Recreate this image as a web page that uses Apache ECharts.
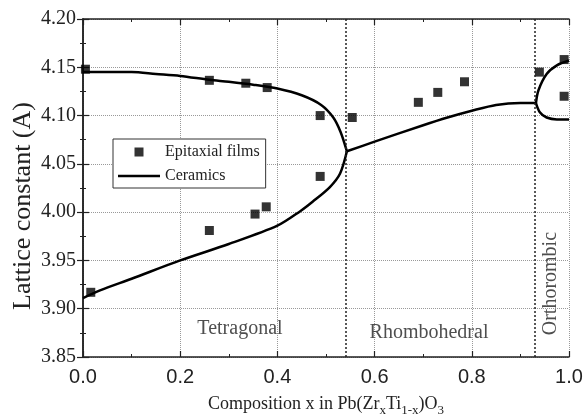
<!DOCTYPE html>
<html>
<head>
<meta charset="utf-8">
<script src="https://cdn.jsdelivr.net/npm/echarts@6/dist/echarts.min.js"></script>
<style>
  html, body { margin: 0; padding: 0; background: #fff; }
  #main { width: 583px; height: 416px; }
</style>
</head>
<body>
<div id="main"></div>
<script>
// epitaxial films (squares)
var filmsX = [0.005, 0.016, 0.26, 0.335, 0.379, 0.488, 0.554, 0.690, 0.730, 0.785, 0.939, 0.990, 0.990, 0.488, 0.26, 0.354, 0.377];
var filmsY = [4.148, 3.917, 4.1365, 4.1335, 4.129, 4.100, 4.098, 4.1137, 4.124, 4.135, 4.145, 4.158, 4.120, 4.037, 3.981, 3.998, 4.0055];

// ceramics curves
var tetraUpX = [0, 0.05, 0.1, 0.15, 0.2, 0.26, 0.3, 0.35, 0.4, 0.45, 0.49, 0.515, 0.53, 0.543];
var tetraUpY = [4.145, 4.145, 4.145, 4.143, 4.141, 4.137, 4.135, 4.132, 4.128, 4.121, 4.111, 4.098, 4.083, 4.063];
var tetraLoX = [0, 0.035, 0.1, 0.2, 0.3, 0.4, 0.447, 0.473, 0.508, 0.529, 0.543];
var tetraLoY = [3.911, 3.919, 3.931, 3.950, 3.967, 3.986, 4.001, 4.011, 4.026, 4.040, 4.063];
var rhomboX = [0.543, 0.6, 0.7, 0.75, 0.8, 0.85, 0.9, 0.932];
var rhomboY = [4.063, 4.073, 4.090, 4.098, 4.105, 4.111, 4.113, 4.113];
var orthoUpX = [0.932, 0.937, 0.954, 0.975, 1.0];
var orthoUpY = [4.113, 4.126, 4.143, 4.152, 4.157];
var orthoLoX = [0.932, 0.940, 0.954, 0.975, 1.0];
var orthoLoY = [4.113, 4.1035, 4.098, 4.096, 4.096];

// phase boundaries and region names
var boundaryX = [0.54, 0.93];
var regionNames = ['Tetragonal', 'Rhombohedral', 'Orthorombic'];
var regionX = [0.323, 0.712, 0.963];
var regionY = [3.879, 3.875, 3.926];

function pairs(xs, ys) {
  return xs.map(function (x, i) { return [x, ys[i]]; });
}

var myChart = echarts.init(document.getElementById('main'));

var serif = '"Liberation Serif", "Times New Roman", serif';
var sans = '"Liberation Sans", Arial, sans-serif';

function curve(xs, ys) {
  return {
    name: 'Ceramics',
    type: 'line',
    data: pairs(xs, ys),
    smooth: 0.3,
    showSymbol: false,
    symbol: 'none',
    lineStyle: { color: '#000', width: 2.5 },
    itemStyle: { color: '#000' },
    z: 3
  };
}

var tickStyle = { show: true, inside: true, length: 6, lineStyle: { color: '#222', width: 1.2 } };
var minorStyle = { show: true, splitNumber: 2, length: 3, lineStyle: { color: '#222', width: 1 } };

var option = {
  animation: false,
  grid: { left: 83, right: 14, top: 19, bottom: 59, outerBoundsMode: 'none', containLabel: false },
  legend: {
    left: 113, top: 139,
    orient: 'vertical',
    itemWidth: 42, itemHeight: 9, itemGap: 8,
    symbolKeepAspect: true,
    padding: [5, 6, 4, 5],
    borderColor: '#333', borderWidth: 1,
    backgroundColor: '#fff',
    textStyle: { fontFamily: serif, fontSize: 16, color: '#222' },
    data: [
      { name: 'Epitaxial films', icon: 'path://M0,0L10,0L10,10L0,10Z', itemStyle: { color: '#000' } },
      { name: 'Ceramics', icon: 'path://M0,0L42,0L42,2.5L0,2.5Z', itemStyle: { color: '#000' } }
    ]
  },
  xAxis: [{
    type: 'value', min: 0, max: 1, interval: 0.2,
    position: 'bottom',
    axisLine: { lineStyle: { color: '#222', width: 1.5 } },
    axisTick: tickStyle,
    minorTick: minorStyle,
    splitLine: { show: true, lineStyle: { color: '#999', type: 'dotted', width: 1 } },
    axisLabel: {
      fontFamily: sans, fontSize: 20, color: '#222', margin: 10,
      formatter: function (v) { return v.toFixed(1); }
    },
    name: 'Composition x in Pb(Zr{s|x}Ti{s|1-x})O{s|3}',
    nameLocation: 'middle', nameGap: 35,
    nameTextStyle: {
      fontFamily: serif, fontSize: 18, color: '#222',
      rich: { s: { fontFamily: serif, fontSize: 13, color: '#222', padding: [12, 0, 0, 0] } }
    }
  }, {
    type: 'value', min: 0, max: 1, interval: 0.2,
    position: 'top',
    axisLine: { show: true, lineStyle: { color: '#222', width: 1.5 } },
    axisTick: tickStyle,
    minorTick: minorStyle,
    splitLine: { show: false },
    axisLabel: { show: false }
  }],
  yAxis: [{
    type: 'value', min: 3.85, max: 4.20, interval: 0.05,
    position: 'left',
    axisLine: { show: true, lineStyle: { color: '#222', width: 1.5 } },
    axisTick: tickStyle,
    minorTick: minorStyle,
    splitLine: { show: true, lineStyle: { color: '#999', type: 'dotted', width: 1 } },
    axisLabel: {
      fontFamily: serif, fontSize: 20, color: '#222', margin: 7,
      formatter: function (v) { return v.toFixed(2); }
    },
    name: 'Lattice constant (A)',
    nameLocation: 'middle', nameRotate: 90, nameGap: 47,
    nameMoveOverlap: false,
    nameTextStyle: { fontFamily: serif, fontSize: 26, color: '#222', padding: [0, 36, 0, 0] }
  }, {
    type: 'value', min: 3.85, max: 4.20, interval: 0.05,
    position: 'right',
    axisLine: { show: true, lineStyle: { color: '#222', width: 1.5 } },
    axisTick: tickStyle,
    minorTick: minorStyle,
    splitLine: { show: false },
    axisLabel: { show: false }
  }],
  series: [
    {
      name: 'Epitaxial films',
      type: 'scatter',
      symbol: 'rect',
      symbolSize: 9,
      itemStyle: { color: '#000' },
      data: pairs(filmsX, filmsY),
      z: 4,
      markLine: {
        silent: true,
        symbol: 'none',
        label: { show: false },
        lineStyle: { color: '#222', type: [2, 2], width: 1.5 },
        data: boundaryX.map(function (x) { return { xAxis: x }; })
      }
    },
    curve(tetraUpX, tetraUpY),
    curve(tetraLoX, tetraLoY),
    curve(rhomboX, rhomboY),
    curve(orthoUpX, orthoUpY),
    curve(orthoLoX, orthoLoY),
    {
      name: 'regions',
      type: 'scatter',
      symbolSize: 0,
      silent: true,
      data: regionNames.map(function (n, i) {
        return {
          value: [regionX[i], regionY[i]],
          name: n,
          label: { rotate: i === 2 ? 90 : 0 }
        };
      }),
      label: {
        show: true, position: 'inside',
        formatter: '{b}',
        fontFamily: serif, fontSize: 20, color: '#222'
      }
    }
  ]
};

myChart.setOption(option);
</script>
</body>
</html>
